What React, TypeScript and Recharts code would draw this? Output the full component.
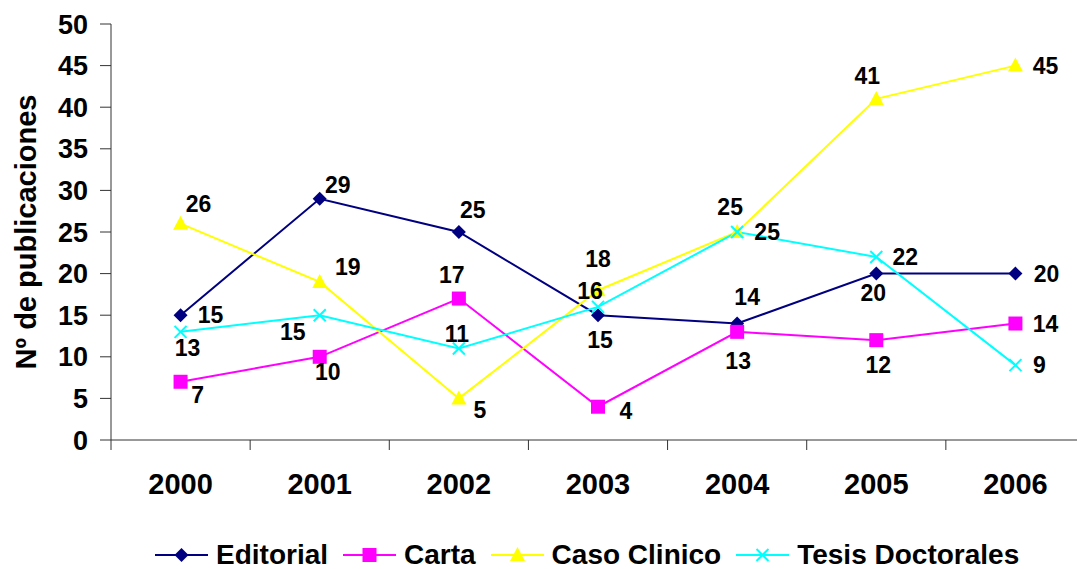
import * as React from "react";
import { LineChart, Line, XAxis, YAxis, Legend, LabelList } from "recharts";

const years = ["2000", "2001", "2002", "2003", "2004", "2005", "2006"];
const editorial = [15, 29, 25, 15, 14, 20, 20];
const carta = [7, 10, 17, 4, 13, 12, 14];
const casoClinico = [26, 19, 5, 18, 25, 41, 45];
const tesisDoctorales = [13, 15, 11, 16, 25, 22, 9];
const yTicks = [0, 5, 10, 15, 20, 25, 30, 35, 40, 45, 50];

// where each value label sits relative to its point [dx, dy]
const editorialOffsets = [[30, 0], [18, -14], [14, -22], [2, 25], [10, -27], [-3, 19], [31, 0]];
const cartaOffsets = [[17, 13], [8, 15], [-7, -24], [28, 4], [1, 29], [2, 25], [30, 0]];
const casoOffsets = [[18, -20], [28, -15], [21, 12], [0, -31], [-7, -25], [-9, -23], [30, 0]];
const tesisOffsets = [[7, 16], [-27, 17], [-2, -14], [-8, -16], [30, 0], [29, 0], [24, 0]];

const data = years.map((year, i) => ({
  year,
  editorial: editorial[i],
  carta: carta[i],
  casoClinico: casoClinico[i],
  tesisDoctorales: tesisDoctorales[i],
}));

const FONT = '"Liberation Sans", Arial, sans-serif';
const AXIS = "#333";
const PLOT_LEFT = 111;
const PLOT_RIGHT = 1085;
const BAND = (PLOT_RIGHT - PLOT_LEFT) / years.length;

const Marker = ({ shape, cx, cy, color }: any) => {
  if (shape === "diamond")
    return <polygon points={`${cx},${cy - 7} ${cx + 7},${cy} ${cx},${cy + 7} ${cx - 7},${cy}`} fill={color} />;
  if (shape === "square") return <rect x={cx - 7} y={cy - 7} width={14} height={14} fill={color} />;
  if (shape === "triangle")
    return <polygon points={`${cx},${cy - 8} ${cx + 7.5},${cy + 6} ${cx - 7.5},${cy + 6}`} fill={color} />;
  return (
    <g stroke={color} strokeWidth={2}>
      <line x1={cx - 6} y1={cy - 6} x2={cx + 6} y2={cy + 6} />
      <line x1={cx - 6} y1={cy + 6} x2={cx + 6} y2={cy - 6} />
    </g>
  );
};

const series = [
  { key: "editorial", name: "Editorial", color: "#000080", shape: "diamond", offsets: editorialOffsets },
  { key: "carta", name: "Carta", color: "#FF00FF", shape: "square", offsets: cartaOffsets },
  { key: "casoClinico", name: "Caso Clinico", color: "#FFFF00", shape: "triangle", offsets: casoOffsets },
  { key: "tesisDoctorales", name: "Tesis Doctorales", color: "#00FFFF", shape: "cross", offsets: tesisOffsets },
];

const makeLabel = (offsets: number[][]) => (props: any) => {
  const x = props.x ?? props.viewBox?.x;
  const y = props.y ?? props.viewBox?.y;
  const o = offsets[props.index] || [0, 0];
  return (
    <text
      x={x + o[0]}
      y={y + o[1]}
      textAnchor="middle"
      dominantBaseline="central"
      fontFamily={FONT}
      fontWeight="bold"
      fontSize={23}
      fill="#000"
    >
      {props.value}
    </text>
  );
};

const XTick = (props: any) => {
  const { x, payload } = props;
  return (
    <g>
      <line x1={x - BAND / 2} y1={440} x2={x - BAND / 2} y2={450} stroke={AXIS} />
      <text
        x={x}
        y={484}
        textAnchor="middle"
        dominantBaseline="central"
        fontFamily={FONT}
        fontWeight="bold"
        fontSize={29}
        fill="#000"
      >
        {payload.value}
      </text>
    </g>
  );
};

const LegendBox = () => (
  <div
    style={{
      display: "flex",
      alignItems: "center",
      height: 40,
      paddingLeft: 155,
      fontFamily: FONT,
      fontWeight: "bold",
      fontSize: 28,
      color: "#000",
    }}
  >
    {series.map((s) => (
      <div key={s.key} style={{ display: "flex", alignItems: "center", marginRight: 15 }}>
        <svg width={53} height={20}>
          <line x1={0} y1={10} x2={53} y2={10} stroke={s.color} strokeWidth={2} />
          <Marker shape={s.shape} cx={26.5} cy={10} color={s.color} />
        </svg>
        <span style={{ marginLeft: 8 }}>{s.name}</span>
      </div>
    ))}
  </div>
);

export default function App() {
  return (
    <div style={{ position: "absolute", left: 0, top: 0, width: 1077, height: 569, overflow: "hidden", background: "#fff" }}>
      <LineChart width={1090} height={569} data={data} margin={{ top: 24, right: 5, left: 0, bottom: 29 }}>
        <XAxis
          dataKey="year"
          height={60}
          tickLine={false}
          tickSize={0}
          tickMargin={0}
          stroke={AXIS}
          interval={0}
          padding={{ left: BAND / 2, right: BAND / 2 }}
          tick={<XTick />}
        />
        <YAxis
          width={111}
          domain={[0, 50]}
          ticks={yTicks}
          interval={0}
          tickSize={11}
          tickMargin={12}
          stroke={AXIS}
          tick={{ fontFamily: FONT, fontWeight: "bold", fontSize: 27, fill: "#000" }}
          label={{
            value: "Nº de publicaciones",
            angle: -90,
            position: "center",
            dx: -30,
            style: { fontFamily: FONT, fontWeight: "bold", fontSize: 29, fill: "#000" },
          }}
        />
        <Legend content={<LegendBox />} wrapperStyle={{ top: 535, left: 0, width: 1077 }} />
        {series.map((s) => (
          <Line
            key={s.key}
            type="linear"
            dataKey={s.key}
            name={s.name}
            stroke={s.color}
            strokeWidth={2}
            isAnimationActive={false}
            dot={(p: any) => <Marker key={`${s.key}-${p.index}`} shape={s.shape} cx={p.cx} cy={p.cy} color={s.color} />}
            activeDot={false}
          >
            <LabelList dataKey={s.key} content={makeLabel(s.offsets)} />
          </Line>
        ))}
      </LineChart>
    </div>
  );
}
